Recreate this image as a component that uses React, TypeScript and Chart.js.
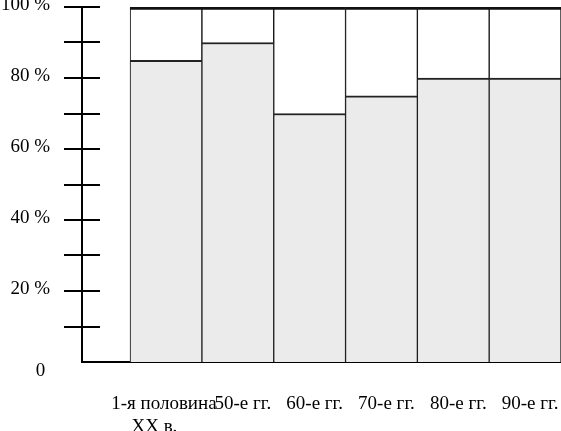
import React, { useEffect, useRef } from 'react';
import { Chart, registerables } from 'chart.js';

Chart.register(...registerables);

const NB = '\u00a0';
const categories: (string | string[])[] = [
  ['1-я половина' + NB.repeat(3), 'XX в.' + NB.repeat(7)],
  '50-е гг.',
  '60-е гг.',
  '70-е гг.',
  '80-е гг.',
  '90-е гг.',
];
const categoryPositions = [1, 2, 3, 4, 5, 6];
const shareValues = [85, 90, 70, 75, 80, 80];
const totalValues = [100, 100, 100, 100, 100, 100];
const yTickLabels: Record<number, string | string[]> = {
  0: ['', '0' + NB],
  20: '20 %',
  40: '40 %',
  60: '60 %',
  80: '80 %',
  100: '100 %',
};
const yMarkTicks = [10, 20, 30, 40, 50, 60, 70, 80, 90, 100];

const FONT = { family: "'Liberation Serif', 'Times New Roman', serif", size: 19 };

const crossTicks = {
  id: 'crossTicks',
  afterDraw(chart: any) {
    const { ctx, chartArea } = chart;
    const y = chart.scales.y;
    ctx.save();
    ctx.strokeStyle = '#000';
    ctx.lineWidth = 2;
    for (const v of yMarkTicks) {
      const py = Math.round(y.getPixelForValue(v));
      ctx.beginPath();
      ctx.moveTo(chartArea.left - 18, py);
      ctx.lineTo(chartArea.left + 18, py);
      ctx.stroke();
    }
    ctx.restore();
  },
};

export default function App() {
  const ref = useRef<HTMLCanvasElement>(null);
  useEffect(() => {
    if (!ref.current) return;
    const chart = new Chart(ref.current, {
      type: 'bar',
      data: {
        datasets: [
          {
            label: 'share',
            data: shareValues.map((v, i) => ({ x: categoryPositions[i], y: v })),
            backgroundColor: '#ebebeb',
            borderColor: '#222',
            borderWidth: { top: 2, left: 1, right: 1, bottom: 0 },
            borderSkipped: false,
            grouped: false,
            barPercentage: 1,
            categoryPercentage: 1,
          } as any,
          {
            label: 'total',
            data: totalValues.map((v, i) => ({ x: categoryPositions[i], y: v })),
            backgroundColor: '#ffffff',
            borderColor: '#111',
            borderWidth: { top: 3, left: 1, right: 1, bottom: 0 },
            borderSkipped: false,
            grouped: false,
            barPercentage: 1,
            categoryPercentage: 1,
          } as any,
        ],
      },
      options: {
        animation: false,
        responsive: false,
        devicePixelRatio: 1,
        layout: { padding: { top: 7, left: 0, right: 0, bottom: 0 } },
        plugins: { legend: { display: false }, tooltip: { enabled: false } },
        scales: {
          x: {
            type: 'linear',
            offset: false,
            min: -0.17,
            max: 6.5,
            z: 1,
            grid: { display: false, drawTicks: false },
            border: { display: true, color: '#000', width: 2 },
            afterBuildTicks: (scale: any) => {
              scale.ticks = categoryPositions.map((value) => ({ value }));
            },
            afterFit: (scale: any) => {
              scale.height = 69;
              scale.paddingLeft = 0;
              scale.paddingRight = 0;
            },
            ticks: {
              autoSkip: false,
              maxRotation: 0,
              padding: 31,
              labelOffset: 5,
              color: '#000',
              font: FONT,
              callback: (value: any) => categories[categoryPositions.indexOf(Number(value))] ?? '',
            },
          },
          y: {
            type: 'linear',
            min: 0,
            max: 100,
            z: 1,
            grid: { display: false, drawTicks: false },
            border: { display: true, color: '#000', width: 2 },
            afterFit: (scale: any) => {
              scale.width = 82;
              scale.paddingTop = 0;
              scale.paddingBottom = 0;
            },
            ticks: {
              stepSize: 10,
              autoSkip: false,
              padding: 32,
              labelOffset: -2,
              color: '#000',
              font: FONT,
              callback: (value: any) => yTickLabels[Number(value)] ?? '',
            },
          },
        },
      },
      plugins: [crossTicks],
    });
    return () => chart.destroy();
  }, []);
  return (
    <div style={{ position: 'absolute', left: 0, top: 0, width: 561, height: 431, background: '#fff' }}>
      <canvas ref={ref} width={561} height={431} style={{ display: 'block' }} />
    </div>
  );
}
